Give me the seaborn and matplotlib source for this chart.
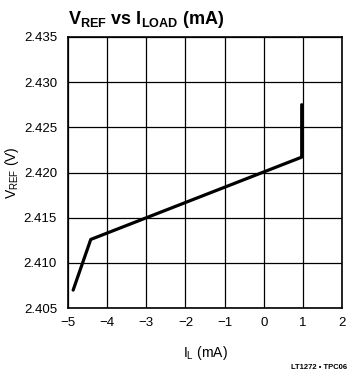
import matplotlib
matplotlib.use("Agg")
import matplotlib.pyplot as plt
import seaborn as sns
import pandas as pd

# Data
i_load = [-4.87, -4.42, 0.97, 0.97]
v_ref = [2.4070, 2.4126, 2.4217, 2.4275]
x_ticks = [-5, -4, -3, -2, -1, 0, 1, 2]
x_tick_labels = ["\u22125", "\u22124", "\u22123", "\u22122", "\u22121", "0", "1", "2"]
y_ticks = [2.405, 2.410, 2.415, 2.420, 2.425, 2.430, 2.435]
y_tick_labels = ["2.405", "2.410", "2.415", "2.420", "2.425", "2.430", "2.435"]

sns.set_style("white")
plt.rcParams["font.family"] = ["Liberation Sans", "DejaVu Sans"]
plt.rcParams["mathtext.fontset"] = "custom"
plt.rcParams["mathtext.rm"] = "Liberation Sans"
plt.rcParams["mathtext.bf"] = "Liberation Sans:bold"
plt.rcParams["text.color"] = "black"
plt.rcParams["axes.labelcolor"] = "black"

df = pd.DataFrame({"I_L": i_load, "V_REF": v_ref})

fig = plt.figure(figsize=(3.49, 3.80), dpi=100)
ax = fig.add_axes([0.195, 0.189, 0.785, 0.714])

sns.lineplot(data=df, x="I_L", y="V_REF", sort=False, estimator=None,
             color="black", linewidth=2.3, ax=ax)

ax.set_xlim(-5, 2)
ax.set_ylim(2.405, 2.435)
ax.set_xticks(x_ticks)
ax.set_xticklabels(x_tick_labels)
ax.set_yticks(y_ticks)
ax.set_yticklabels(y_tick_labels)
ax.tick_params(axis="both", length=0, labelsize=9.5, colors="black")
ax.tick_params(axis="x", pad=6)
ax.tick_params(axis="y", pad=8)
ax.grid(True, color="black", linewidth=0.9)
for s in ax.spines.values():
    s.set_visible(True)
    s.set_color("black")
    s.set_linewidth(1.2)

ax.set_xlabel(r"I$_\mathregular{L}$ (mA)", fontsize=10, labelpad=11)
ax.set_ylabel(r"V$_\mathregular{REF}$ (V)", fontsize=10, labelpad=2)

fig.text(0.195, 0.937, r"V$_\mathbf{REF}$ vs I$_\mathbf{LOAD}$ (mA)",
         fontsize=13, fontweight="bold", ha="left", va="baseline")
fig.text(0.995, 0.028, "LT1272 \u2022 TPC06", fontsize=5.5, fontweight="bold",
         ha="right", va="baseline")

fig.savefig("out.png", dpi=100)
